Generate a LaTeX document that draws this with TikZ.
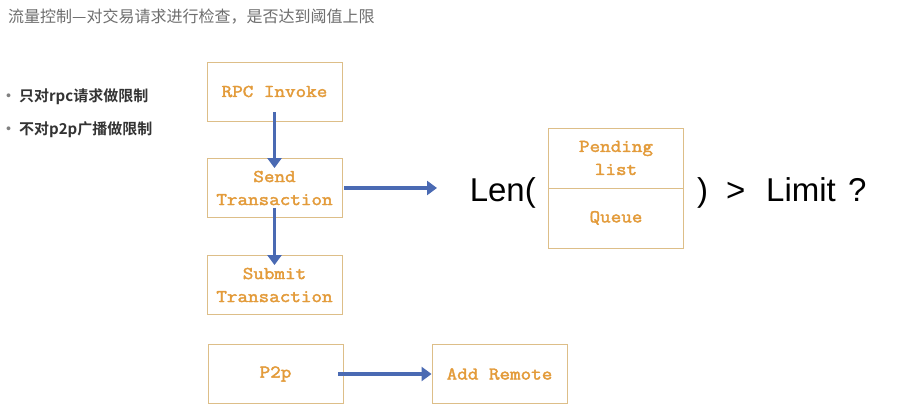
\documentclass[tikz,border=0pt]{standalone}
\usepackage{fontspec}
\setmainfont{Liberation Sans}
\newfontfamily\cjk{Noto Sans CJK SC}
\newfontfamily\cjkb{Noto Sans CJK SC Bold}
\newfontfamily\boxfont{Latin Modern Mono}[FakeBold=2.2,FakeStretch=1.14]
\usetikzlibrary{arrows.meta}
\definecolor{boxline}{HTML}{DDBE88}
\definecolor{boxtext}{HTML}{E39B3A}
\definecolor{arrowblue}{HTML}{4A6AB3}
\definecolor{titlegray}{HTML}{6E6E6E}
\definecolor{bulletgray}{HTML}{333333}
\tikzset{
  flowbox/.style={draw=boxline, line width=0.9pt, minimum width=135pt, minimum height=59pt,
    inner sep=0pt, align=center, text=boxtext, font=\boxfont\fontsize{18}{23}\selectfont},
  flowarrow/.style={draw=arrowblue, line width=3.4pt, -{Triangle[length=10pt,width=14pt]}},
  bigtext/.style={font=\fontsize{33}{38}\selectfont, text=black, inner sep=0pt},
}
\begin{document}
\begin{tikzpicture}[x=1pt,y=-1pt]
\useasboundingbox[fill=white] (0,0) rectangle (908,411);
\node[anchor=west, text=titlegray, inner sep=0pt, font=\cjk\fontsize{16}{18}\selectfont] (title) at (8,17) {流量控制—对交易请求进行检查，是否达到阈值上限};
\node[anchor=west, text=bulletgray, inner sep=0pt, font=\cjkb\fontsize{15}{17}\selectfont] (b1) at (1,97) {\textcolor{gray}{·}\hspace{3pt}只对rpc请求做限制};
\node[anchor=west, text=bulletgray, inner sep=0pt, font=\cjkb\fontsize{15}{17}\selectfont] (b2) at (1,130) {\textcolor{gray}{·}\hspace{3pt}不对p2p广播做限制};

\node[flowbox] (rpc) at (274.5,91.5) {RPC Invoke};
\node[flowbox] (send) at (274.5,188) {Send\\Transaction};
\node[flowbox] (submit) at (274.5,285) {Submit\\Transaction};
\node[flowbox] (p2p) at (275.5,374) {P2p};
\node[flowbox] (add) at (499.5,374) {Add Remote};

\node[flowbox, minimum height=60pt] (pend) at (616,158) {Pending\\list};
\node[flowbox, minimum height=60pt] (queue) at (616,218) {Queue};

\node[bigtext, anchor=base east] (len) at (536,202) {Len(};
\node[bigtext, anchor=base west] (rp) at (697,202) {)};
\node[bigtext, anchor=base west] (gt) at (726,202) {>};
\node[bigtext, anchor=base west] (lim) at (766,202) {Limit};
\node[bigtext, anchor=base west] (q) at (848,202) {?};
\coordinate (sendend) at (437,188);

\draw[flowarrow] ([yshift=9pt]rpc.south) -- ([yshift=-10pt]send.north);
\draw[flowarrow] ([yshift=10pt]send.south) -- ([yshift=-10pt]submit.north);
\draw[flowarrow] ([xshift=2pt]send.east) -- (sendend);
\draw[flowarrow] ([xshift=-5pt]p2p.east) -- (add.west);
\end{tikzpicture}
\end{document}
